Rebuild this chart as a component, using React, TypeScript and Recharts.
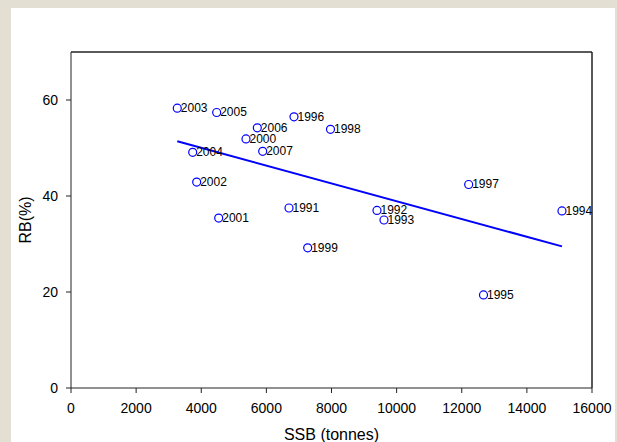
import { ScatterChart, Scatter, XAxis, YAxis, ReferenceLine, Label } from "recharts";

// Year labels, SSB (tonnes) and RB (%)
const years = [1991, 1992, 1993, 1994, 1995, 1996, 1997, 1998, 1999, 2000, 2001, 2002, 2003, 2004, 2005, 2006, 2007];
const ssb = [6695, 9397, 9612, 15078, 12668, 6848, 12213, 7969, 7269, 5374, 4536, 3860, 3264, 3737, 4474, 5721, 5887];
const rb = [37.5, 37.0, 35.0, 36.9, 19.4, 56.5, 42.4, 53.9, 29.2, 51.9, 35.4, 42.9, 58.3, 49.1, 57.4, 54.2, 49.3];

// fitted line end points as drawn
const fitSsb = [3264, 15078];
const fitRb = [51.4, 29.5];

const xTicks = [0, 2000, 4000, 6000, 8000, 10000, 12000, 14000, 16000];
const yTicks = [0, 20, 40, 60];

const points = years.map((year, i) => ({ year, ssb: ssb[i], rb: rb[i] }));
const fitLine = fitSsb.map((v, i) => ({ ssb: v, rb: fitRb[i] }));

const FONT = '"Liberation Sans", Arial, sans-serif';
const BLUE = "#0000ff";

function YearPoint(props: any) {
  const { cx, cy, payload } = props;
  return (
    <g>
      <circle cx={cx} cy={cy} r={4} fill="none" stroke={BLUE} strokeWidth={1.2} />
      <text x={cx + 3.5} y={cy + 4} fontSize={12} fontFamily={FONT} fill="#000">
        {payload.year}
      </text>
    </g>
  );
}

export default function App() {
  return (
    <div style={{ position: "relative", width: 617, height: 442, background: "#e3e0d3", overflow: "hidden" }}>
      <style>{`body{margin:0}`}</style>
      <div style={{ position: "absolute", left: 11, top: 8, width: 604, height: 434, background: "#fff" }} />
      <div style={{ position: "absolute", left: 0, top: 0 }}>
        <ScatterChart width={617} height={442} margin={{ top: 52, right: 25, bottom: 0, left: 0 }}>
          <XAxis
            type="number"
            dataKey="ssb"
            domain={[0, 16000]}
            ticks={xTicks}
            height={54}
            tickSize={5}
            tickMargin={10}
            stroke="#222"
            tick={{ fill: "#000", fontSize: 14, fontFamily: FONT }}
          >
            <Label
              content={(p: any) => {
                const vb = p.viewBox;
                return (
                  <text x={vb.x + vb.width / 2} y={440} textAnchor="middle" fontSize={16} fontFamily={FONT} fill="#000">
                    SSB (tonnes)
                  </text>
                );
              }}
            />
          </XAxis>
          <YAxis
            type="number"
            dataKey="rb"
            domain={[0, 70]}
            ticks={yTicks}
            width={71}
            tickSize={5}
            tickMargin={8}
            stroke="#222"
            tick={{ fill: "#000", fontSize: 14, fontFamily: FONT }}
          >
            <Label
              content={() => (
                <text
                  x={25}
                  y={220}
                  transform="rotate(-90 25 220)"
                  textAnchor="middle"
                  dominantBaseline="central"
                  fontSize={16}
                  fontFamily={FONT}
                  fill="#000"
                >
                  RB(%)
                </text>
              )}
            />
          </YAxis>
          <ReferenceLine y={70} stroke="#222" strokeWidth={1.5} />
          <ReferenceLine x={16000} stroke="#222" strokeWidth={1.5} />
          <Scatter
            data={fitLine}
            line={{ stroke: BLUE, strokeWidth: 2 }}
            shape={() => <g />}
            isAnimationActive={false}
          />
          <Scatter data={points} shape={YearPoint} isAnimationActive={false} />
        </ScatterChart>
      </div>
    </div>
  );
}
